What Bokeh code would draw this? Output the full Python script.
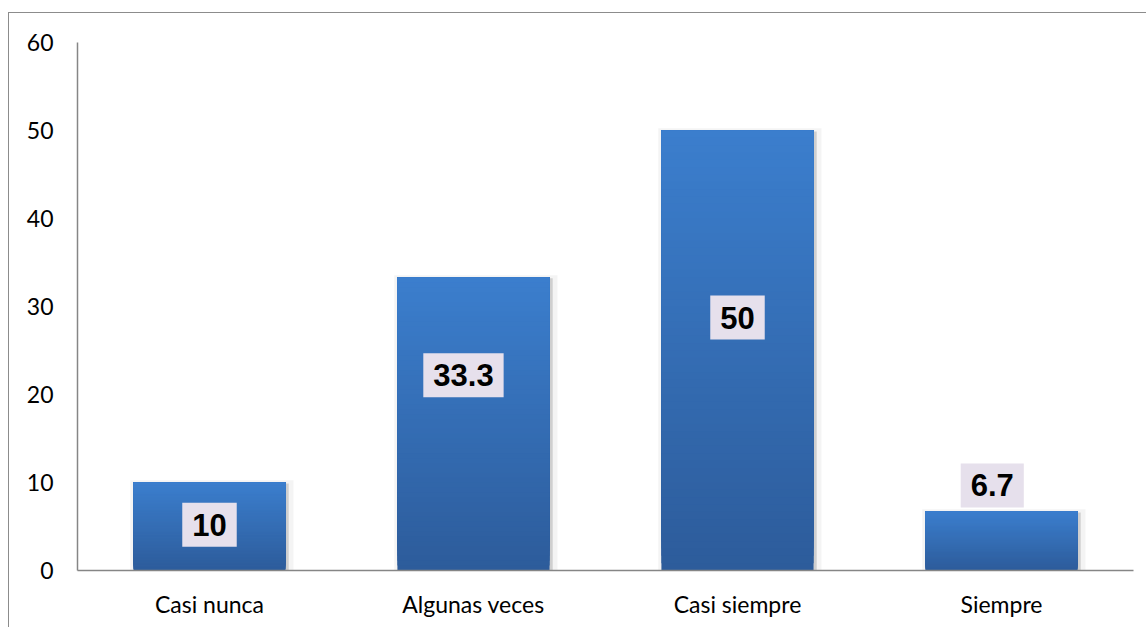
from bokeh.plotting import figure
from bokeh.models import Label, FixedTicker
from bokeh.embed import file_html
from bokeh.resources import INLINE

categories = ["Casi nunca", "Algunas veces", "Casi siempre", "Siempre"]
values = [10, 33.3, 50, 6.7]
label_texts = ["10", "33.3", "50", "6.7"]
label_y = [5.2, 22.2, 28.75, 9.66]
label_dx = [0.0, -0.038, 0.0, -0.035]
y_ticks = [0, 10, 20, 30, 40, 50, 60]

p = figure(width=1138, height=615, x_range=(0, 4), y_range=(0, 60),
           output_backend="svg", toolbar_location=None,
           min_border_left=68, min_border_right=14, min_border_top=29, min_border_bottom=58)
p.styles = {"border-top": "1px solid #8c8c8c", "border-left": "1px solid #8c8c8c",
            "margin-top": "12px", "margin-left": "8px"}
p.outline_line_color = None
p.grid.visible = False
p.background_fill_color = "white"

top_c = (0x3B, 0x7E, 0xCD)
bot_c = (0x2D, 0x5C, 0x9B)
w = 0.576
N = 60
for i, v in enumerate(values):
    xc = i + 0.5
    # shadow
    p.quad(left=xc - w / 2 - 0.012, right=xc + w / 2 + 0.03, bottom=0, top=v + 0.25,
           fill_color="#f4f4f4", line_color=None)
    p.quad(left=xc - w / 2 + 0.0, right=xc + w / 2 + 0.012, bottom=0, top=v - 0.1,
           fill_color="#cfcfcf", line_color=None)
    lefts, rights, bots, tops, cols = [], [], [], [], []
    for k in range(N):
        f = k / (N - 1)
        c = tuple(int(round(bot_c[j] + (top_c[j] - bot_c[j]) * f)) for j in range(3))
        lefts.append(xc - w / 2); rights.append(xc + w / 2)
        bots.append(v * k / N); tops.append(v)
        cols.append("#%02x%02x%02x" % c)
    p.quad(left=lefts, right=rights, bottom=bots, top=tops, fill_color=cols, line_color=None)

for i, (t, y) in enumerate(zip(label_texts, label_y)):
    p.add_layout(Label(x=i + 0.5 + label_dx[i], y=y, text=t, text_align="center",
                       text_baseline="middle", text_font="Liberation Sans",
                       text_font_style="bold", text_font_size="31px", text_color="black",
                       background_fill_color="#e6e0ec",
                       padding=dict(left=10, right=10, top=11, bottom=11)))

p.yaxis.ticker = FixedTicker(ticks=y_ticks)
p.xaxis.ticker = FixedTicker(ticks=[i + 0.5 for i in range(len(categories))])
p.xaxis.major_label_overrides = {i + 0.5: c for i, c in enumerate(categories)}
for ax in (p.xaxis[0], p.yaxis[0]):
    ax.axis_line_color = "#868686"
    ax.axis_line_width = 1.5
    ax.major_tick_line_color = None
    ax.minor_tick_line_color = None
    ax.major_label_text_font = "Lato"
    ax.major_label_text_font_size = "23px"
    ax.major_label_text_color = "black"
p.yaxis.major_label_standoff = 18
p.xaxis.major_label_standoff = 13

open("out.html", "w").write(file_html(p, INLINE))
